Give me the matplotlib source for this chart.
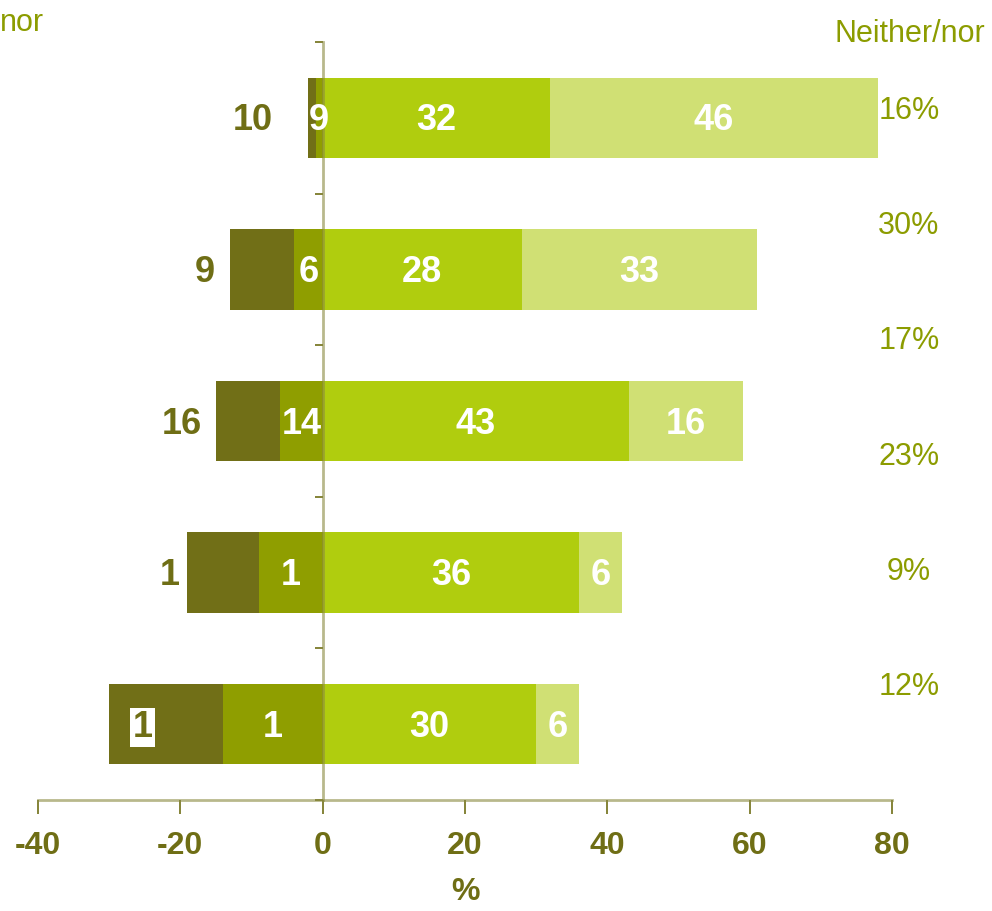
import matplotlib.pyplot as plt
import numpy as np

plt.rcParams['axes.unicode_minus'] = False

# values, top row first
dark = [1, 9, 9, 10, 16]
medium = [1, 4, 6, 9, 14]
bright = [32, 28, 43, 36, 30]
light = [46, 33, 16, 6, 6]

dark_labels = ['10', '9', '16', '1', '1']
medium_labels = ['9', '6', '14', '1', '1']
bright_labels = ['32', '28', '43', '36', '30']
light_labels = ['46', '33', '16', '6', '6']

neither = ['16%', '30%', '17%', '23%', '9%', '12%']

# where the dark-segment numbers sit (x centre, data units)
dark_label_x = [-9.8, -16.6, -19.8, -21.5, -25.3]

c_dark = '#716f17'
c_med = '#8f9e00'
c_bright = '#b0cd0e'
c_light = '#d0e074'
c_text = '#6f6e15'
c_pct = '#8c9c00'

fig = plt.figure(figsize=(9.92, 9.11), dpi=100)
ax = fig.add_axes([38 / 992, 111 / 911, 854 / 992, 758 / 911])

n = len(dark)
y = np.arange(n)[::-1] + 0.5
h = 0.53

med_left = -np.array(medium)
dark_left = med_left - np.array(dark)
ax.barh(y, dark, left=dark_left, height=h, color=c_dark, zorder=2)
ax.barh(y, medium, left=med_left, height=h, color=c_med, zorder=2)
ax.barh(y, bright, left=0, height=h, color=c_bright, zorder=2)
ax.barh(y, light, left=bright, height=h, color=c_light, zorder=2)

lab = dict(color='white', fontsize=26, fontweight='bold', ha='center', va='center',
           family='Liberation Sans', zorder=4)
for i in range(n):
    yy = y[i] - 0.02
    ax.text(med_left[i] / 2, yy, medium_labels[i], **lab)
    ax.text(bright[i] / 2, yy, bright_labels[i], **lab)
    ax.text(bright[i] + light[i] / 2, yy, light_labels[i], **lab)
    if i == n - 1:
        ax.text(dark_label_x[i], yy, dark_labels[i], color=c_text, fontsize=26,
                fontweight='bold', ha='center', va='center', family='Liberation Sans',
                zorder=4, bbox=dict(facecolor='white', edgecolor='none', pad=1.5))
    else:
        ax.text(dark_label_x[i], yy, dark_labels[i], color=c_text, fontsize=26,
                fontweight='bold', ha='center', va='center', family='Liberation Sans',
                zorder=4)

ax.set_xlim(-40, 80)
ax.set_ylim(0, n)
ax.set_xticks(np.arange(-40, 81, 20))
ax.set_yticks(np.arange(0, n + 1))
ax.set_yticklabels([])

for s in ['top', 'right']:
    ax.spines[s].set_visible(False)
ax.spines['left'].set_position(('data', 0))
ax.spines['left'].set_color('#8a8a40')
ax.spines['left'].set_alpha(0.6)
ax.spines['left'].set_linewidth(2)
ax.spines['left'].set_zorder(3)
ax.spines['bottom'].set_color('#8a8a40')
ax.spines['bottom'].set_alpha(0.6)
ax.spines['bottom'].set_linewidth(2)

ax.tick_params(axis='x', direction='out', length=10, width=1.2, color=c_text,
               pad=12, labelsize=23, labelcolor=c_text)
ax.tick_params(axis='y', direction='out', length=6, width=1.2, color=c_text)
for t in ax.get_xticklabels():
    t.set_family(['Liberation Sans Narrow', 'Liberation Sans'])
    t.set_fontweight('bold')

ax.set_xlabel('%', fontsize=23, fontweight='bold', color=c_text,
              family=['Liberation Sans Narrow', 'Liberation Sans'], labelpad=12)

# right-hand "Neither/nor" column
fig.text(910 / 992, 1 - 34 / 911, 'Neither/nor', fontsize=22, color=c_pct,
         ha='center', va='center', family='Liberation Sans')
# tail of the header of a column that lies off the left edge
fig.text(0, 1 - 23 / 911, 'nor', fontsize=22, color=c_pct,
         ha='left', va='center', family='Liberation Sans')
for i, p in enumerate(neither):
    fig.text(909 / 992, 1 - (111 + i * 115.2) / 911, p, fontsize=22, color=c_pct,
             ha='center', va='center', family='Liberation Sans')

fig.savefig('out.png', dpi=100)
